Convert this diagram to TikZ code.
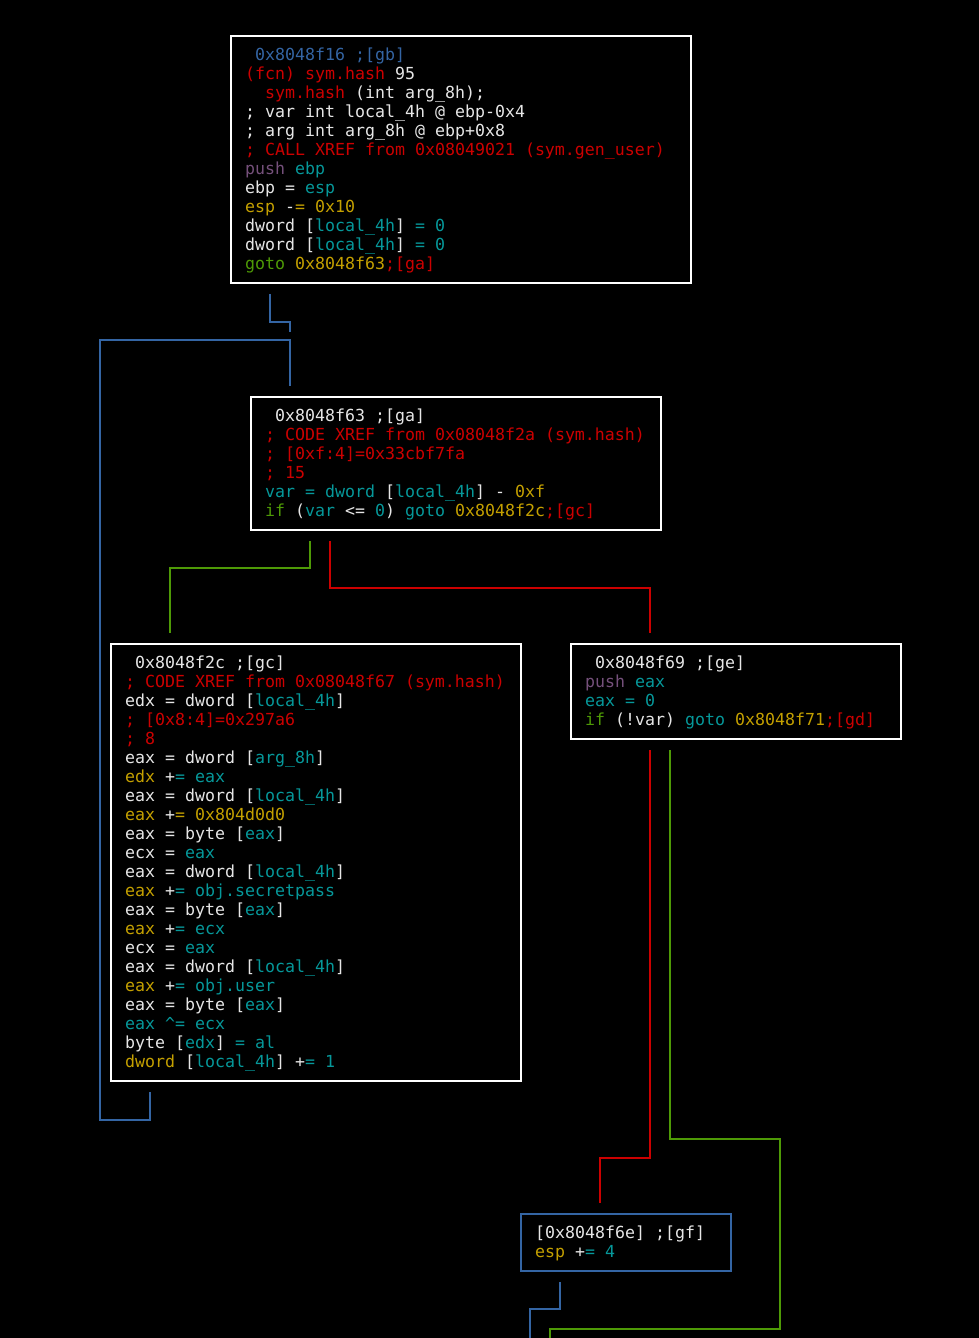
\documentclass[tikz,border=0pt]{standalone}
\usepackage{fontspec}
\usetikzlibrary{calc}
\newfontfamily\codefont{DejaVu Sans Mono}
\definecolor{tw}{HTML}{E6E6E6}
\definecolor{tr}{HTML}{CC0000}
\definecolor{tg}{HTML}{4E9A06}
\definecolor{ty}{HTML}{C4A000}
\definecolor{tb}{HTML}{3465A4}
\definecolor{tp}{HTML}{75507B}
\definecolor{tc}{HTML}{06989A}
\newcommand\cR[1]{\textcolor{tr}{#1}}
\newcommand\cG[1]{\textcolor{tg}{#1}}
\newcommand\cY[1]{\textcolor{ty}{#1}}
\newcommand\cB[1]{\textcolor{tb}{#1}}
\newcommand\cP[1]{\textcolor{tp}{#1}}
\newcommand\cT[1]{\textcolor{tc}{#1}}
\newcommand\codeline[3]{\node[codetext] (#1-#2) at ($(#1.north west)+(15,{25+19*(#2-1)})$) {#3};}
\tikzset{
  blockbox/.style={draw=white, line width=2pt, fill=black, inner sep=0pt, anchor=north west},
  codetext/.style={anchor=base west, inner sep=0pt, text=tw, font=\codefont\fontsize{16.6}{19}\selectfont},
  edgeblue/.style={draw=tb, line width=2pt},
  edgegreen/.style={draw=tg, line width=2pt},
  edgered/.style={draw=tr, line width=2pt},
}
\begin{document}
\begin{tikzpicture}[x=1pt,y=-1pt]
\fill[black] (0,0) rectangle (979,1338);
\useasboundingbox (0,0) rectangle (979,1338);
\clip (0,0) rectangle (979,1338);

% blocks
\node[blockbox, minimum width=460pt, minimum height=247pt] (gb) at (230,35) {};
\node[blockbox, minimum width=410pt, minimum height=133pt] (ga) at (250,396) {};
\node[blockbox, minimum width=410pt, minimum height=437pt] (gc) at (110,643) {};
\node[blockbox, minimum width=330pt, minimum height=95pt] (ge) at (570,643) {};
\node[blockbox, draw=tb, minimum width=210pt, minimum height=57pt] (gf) at (520,1213) {};

% gb text
\codeline{gb}{1}{\cB{\phantom{0}0x8048f16 ;[gb]}}
\codeline{gb}{2}{\cR{(fcn) sym.hash} 95}
\codeline{gb}{3}{\phantom{00}\cR{sym.hash} (int arg\_8h);}
\codeline{gb}{4}{; var int local\_4h @ ebp-0x4}
\codeline{gb}{5}{; arg int arg\_8h @ ebp+0x8}
\codeline{gb}{6}{\cR{; CALL XREF from 0x08049021 (sym.gen\_user)}}
\codeline{gb}{7}{\cP{push} \cT{ebp}}
\codeline{gb}{8}{ebp = \cT{esp}}
\codeline{gb}{9}{\cY{esp} -\cY{= 0x10}}
\codeline{gb}{10}{dword [\cT{local\_4h}] \cT{= 0}}
\codeline{gb}{11}{dword [\cT{local\_4h}] \cT{= 0}}
\codeline{gb}{12}{\cG{goto} \cY{0x8048f63}\cR{;[ga]}}

% ga text
\codeline{ga}{1}{\phantom{0}0x8048f63 ;[ga]}
\codeline{ga}{2}{\cR{; CODE XREF from 0x08048f2a (sym.hash)}}
\codeline{ga}{3}{\cR{; [0xf:4]=0x33cbf7fa}}
\codeline{ga}{4}{\cR{; 15}}
\codeline{ga}{5}{\cT{var = dword} [\cT{local\_4h}] - \cY{0xf}}
\codeline{ga}{6}{\cG{if} (\cT{var} <= \cT{0}) \cT{goto} \cY{0x8048f2c}\cR{;[gc]}}

% gc text
\codeline{gc}{1}{\phantom{0}0x8048f2c ;[gc]}
\codeline{gc}{2}{\cR{; CODE XREF from 0x08048f67 (sym.hash)}}
\codeline{gc}{3}{edx = dword [\cT{local\_4h}]}
\codeline{gc}{4}{\cR{; [0x8:4]=0x297a6}}
\codeline{gc}{5}{\cR{; 8}}
\codeline{gc}{6}{eax = dword [\cT{arg\_8h}]}
\codeline{gc}{7}{\cY{edx} +\cT{= eax}}
\codeline{gc}{8}{eax = dword [\cT{local\_4h}]}
\codeline{gc}{9}{\cY{eax} +\cY{= 0x804d0d0}}
\codeline{gc}{10}{eax = byte [\cT{eax}]}
\codeline{gc}{11}{ecx = \cT{eax}}
\codeline{gc}{12}{eax = dword [\cT{local\_4h}]}
\codeline{gc}{13}{\cY{eax} +\cT{= obj.secretpass}}
\codeline{gc}{14}{eax = byte [\cT{eax}]}
\codeline{gc}{15}{\cY{eax} +\cT{= ecx}}
\codeline{gc}{16}{ecx = \cT{eax}}
\codeline{gc}{17}{eax = dword [\cT{local\_4h}]}
\codeline{gc}{18}{\cY{eax} +\cT{= obj.user}}
\codeline{gc}{19}{eax = byte [\cT{eax}]}
\codeline{gc}{20}{\cT{eax \textasciicircum= ecx}}
\codeline{gc}{21}{byte [\cT{edx}] \cT{= al}}
\codeline{gc}{22}{\cY{dword} [\cT{local\_4h}] +\cT{= 1}}

% ge text
\codeline{ge}{1}{\phantom{0}0x8048f69 ;[ge]}
\codeline{ge}{2}{\cP{push} \cT{eax}}
\codeline{ge}{3}{\cT{eax = 0}}
\codeline{ge}{4}{\cG{if} (!var) \cT{goto} \cY{0x8048f71}\cR{;[gd]}}

% gf text
\codeline{gf}{1}{[0x8048f6e] ;[gf]}
\codeline{gf}{2}{\cY{esp} +\cT{= 4}}

% free ends leaving the picture
\coordinate (gdgreen) at (550,1350);
\coordinate (gdblue) at (530,1350);

% connectors
\draw[edgeblue] ($(gb.south west)+(40,10)$) -- ++(0,28) -- ++(20,0) -- ++(0,10);
\draw[edgeblue] ($(gc.south west)+(40,10)$) -- ++(0,28) -- ++(-50,0)
   |- ($(ga.north west)+(40,-56)$) -- ($(ga.north west)+(40,-10)$);
\draw[edgegreen] ($(ga.south west)+(60,10)$) -- ++(0,27) -| ($(gc.north west)+(60,-10)$);
\draw[edgered] ($(ga.south west)+(80,10)$) -- ++(0,47) -| ($(ge.north west)+(80,-10)$);
\draw[edgered] ($(ge.south west)+(80,10)$) -- ++(0,408) -| ($(gf.north west)+(80,-10)$);
\draw[edgegreen] ($(ge.south west)+(100,10)$) -- ++(0,389) -- ++(110,0) -- ++(0,190) -| (gdgreen);
\draw[edgeblue] ($(gf.south west)+(40,10)$) -- ++(0,27) -| (gdblue);
\end{tikzpicture}
\end{document}
